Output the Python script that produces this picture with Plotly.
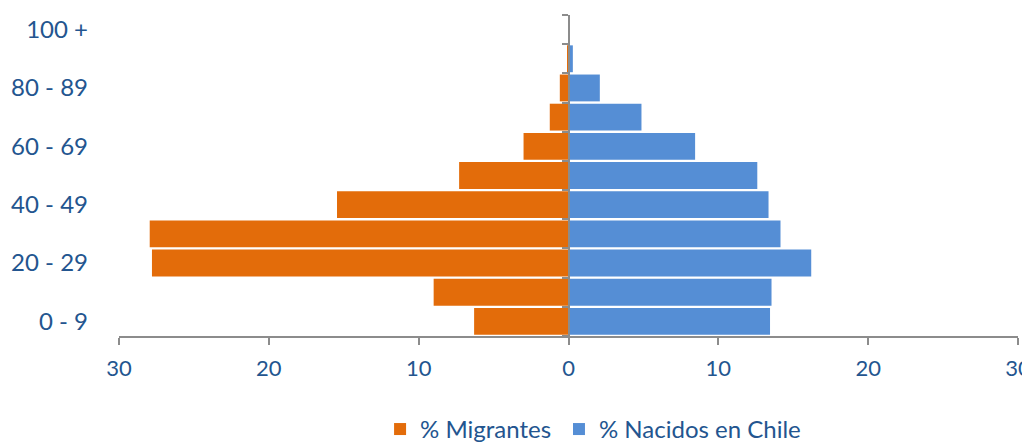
import plotly.graph_objects as go

age_groups = ["0 - 9", "10 - 19", "20 - 29", "30 - 39", "40 - 49", "50 - 59",
              "60 - 69", "70 - 79", "80 - 89", "90 - 99", "100 +"]
migrantes = [6.3, 9.0, 27.8, 27.95, 15.45, 7.3, 3.0, 1.25, 0.58, 0.1, 0.0]
nacidos = [13.45, 13.55, 16.2, 14.15, 13.35, 12.6, 8.45, 4.87, 2.09, 0.29, 0.02]
x_ticks = [-30, -20, -10, 0, 10, 20, 30]
x_tick_labels = ["30", "20", "10", "0", "10", "20", "30"]
label_every = 2

TEXT = "#23558F"
AXIS = "#8C8C8C"
FONT = "Lato, 'Open Sans', sans-serif"

pos = list(range(len(age_groups)))

fig = go.Figure()
fig.add_trace(go.Bar(
    y=pos, x=[-v for v in migrantes], orientation="h", name="% Migrantes",
    marker=dict(color="#E36C0A", line=dict(width=0)), legend="legend",
))
fig.add_trace(go.Bar(
    y=pos, x=nacidos, orientation="h", name="% Nacidos en Chile",
    marker=dict(color="#558ED5", line=dict(width=0)), legend="legend2",
))
# invisible trace to carry the center axis
fig.add_trace(go.Scatter(x=[0], y=[0], yaxis="y2", mode="markers",
                         marker=dict(opacity=0), showlegend=False, hoverinfo="skip"))

yr = [-0.5, len(age_groups) - 0.5]
leg_common = dict(orientation="h", xanchor="left", y=-0.221, yanchor="top",
                  font=dict(size=24, color=TEXT), itemwidth=30,
                  bgcolor="rgba(0,0,0,0)")
fig.update_layout(
    width=1022, height=435,
    margin=dict(l=111, r=12, t=7, b=107, autoexpand=False),
    paper_bgcolor="white", plot_bgcolor="white",
    barmode="relative", bargap=0.08,
    font=dict(family=FONT, size=24, color=TEXT),
    xaxis=dict(range=[-30, 30], tickvals=x_ticks, ticktext=x_tick_labels,
               showgrid=False, zeroline=False, showline=True, linecolor=AXIS,
               linewidth=1.5, ticks="outside", ticklen=7, tickcolor=AXIS,
               tickwidth=1.5, ticklabelstandoff=5, ticklabeloverflow="allow",
               tickfont=dict(size=22, color=TEXT)),
    yaxis=dict(range=yr, tickvals=pos[::label_every],
               ticktext=age_groups[::label_every], showgrid=False,
               zeroline=False, showline=False, ticks="",
               ticklabelstandoff=30, tickfont=dict(size=24, color=TEXT)),
    yaxis2=dict(range=yr, overlaying="y", anchor="free", position=0.5,
                side="left", showgrid=False, zeroline=False, showline=True,
                linecolor=AXIS, linewidth=1.5, showticklabels=False,
                ticks="outside", ticklen=6, tickcolor=AXIS, tickwidth=1.5,
                tickvals=[p - 0.5 for p in pos] + [pos[-1] + 0.5]),
    legend=dict(x=0.2904, **leg_common),
    legend2=dict(x=0.4894, **leg_common),
    showlegend=True,
)

fig.write_html("out.html")
